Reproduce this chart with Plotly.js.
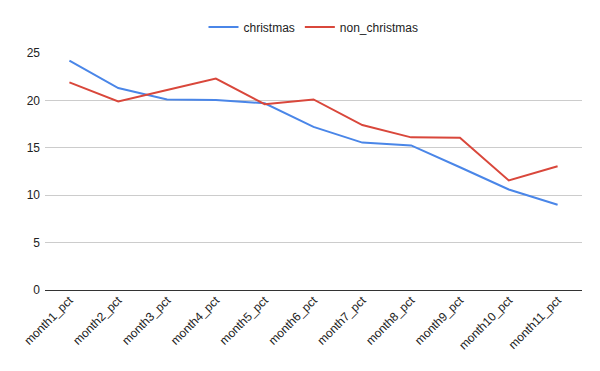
<!DOCTYPE html>
<html>
<head>
<meta charset="utf-8">
<script src="https://cdn.plot.ly/plotly-3.0.1.min.js"></script>
<style>html,body{margin:0;padding:0;background:#fff;}#chart{width:600px;height:371px;}</style>
</head>
<body>
<div id="chart"></div>
<script>
const categories = ["month1_pct","month2_pct","month3_pct","month4_pct","month5_pct","month6_pct","month7_pct","month8_pct","month9_pct","month10_pct","month11_pct"];
const christmas = [24.2, 21.3, 20.1, 20.05, 19.7, 17.2, 15.55, 15.25, 12.95, 10.6, 9.0];
const nonChristmas = [21.9, 19.9, 21.1, 22.3, 19.6, 20.1, 17.4, 16.1, 16.05, 11.55, 13.05];
const yTicks = [0, 5, 10, 15, 20, 25];

const traces = [
  {x: categories, y: christmas, name: "christmas", type: "scatter", mode: "lines",
   line: {color: "#4a86e8", width: 2}},
  {x: categories, y: nonChristmas, name: "non_christmas", type: "scatter", mode: "lines",
   line: {color: "#d9473b", width: 2}}
];
const layout = {
  width: 600, height: 371,
  margin: {l: 45, r: 18, t: 51, b: 81},
  paper_bgcolor: "#fff", plot_bgcolor: "#fff",
  font: {family: "Liberation Sans, Arial, sans-serif", size: 12, color: "#222"},
  showlegend: true,
  legend: {orientation: "h", x: 0.5, xanchor: "center", y: 1.11, yanchor: "middle",
           font: {size: 12, color: "#222"}, itemwidth: 30},
  xaxis: {type: "category", range: [-0.5, 10.5], tickangle: -45, showgrid: false, automargin: false,
          showline: false, zeroline: false, ticks: "", tickfont: {size: 12, color: "#222"}},
  yaxis: {range: [0, 25], tickvals: yTicks, ticktext: yTicks.map(String), automargin: false,
          ticklabelstandoff: 4,
          showgrid: true, gridcolor: "#cccccc", gridwidth: 1,
          zeroline: true, zerolinecolor: "#333333", zerolinewidth: 1,
          showline: false, ticks: "", ticklen: 0, tickfont: {size: 12, color: "#222"}}
};
Plotly.newPlot("chart", traces, layout, {displayModeBar: false, staticPlot: true});
</script>
</body>
</html>
